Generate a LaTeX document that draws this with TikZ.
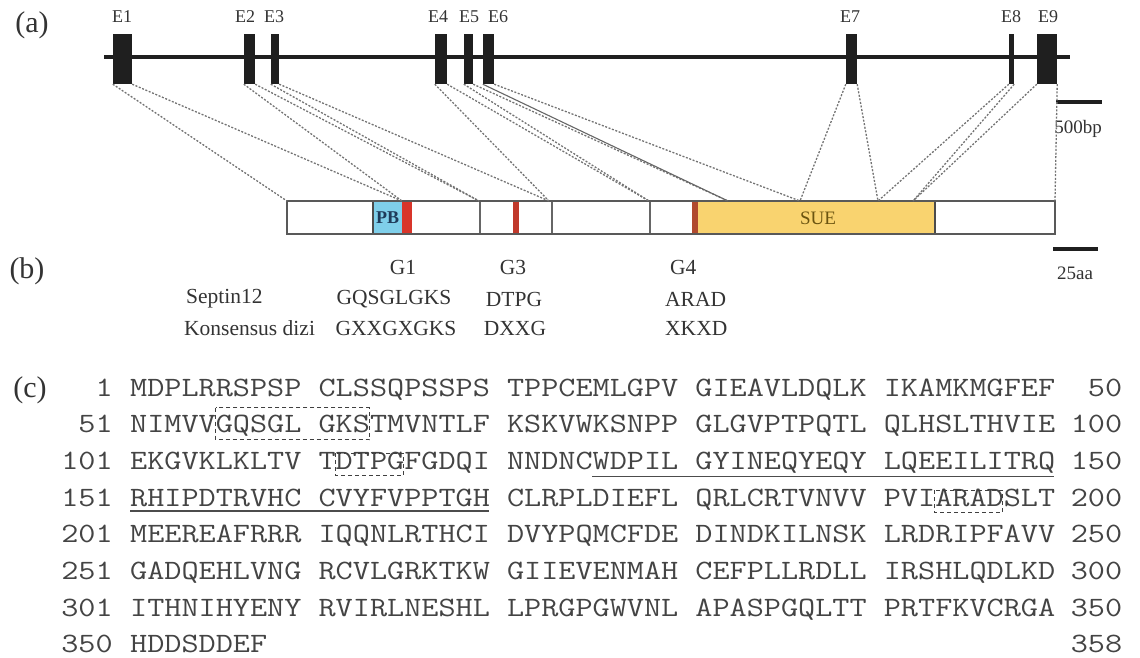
\documentclass[tikz,border=0pt]{standalone}
\usepackage{graphicx}
\usepackage{fontspec}
\setmainfont{Liberation Serif}
\newfontfamily\seqfont{Latin Modern Mono}
\newcommand{\sq}[1]{\scalebox{1.188}[1]{#1}}
\newcommand{\gsp}{\hspace{0.51428em}}
\definecolor{pbblue}{HTML}{7FCFEA}
\definecolor{pbtext}{HTML}{1F3B5A}
\definecolor{suey}{HTML}{F9D36F}
\definecolor{suetext}{HTML}{6B5410}
\definecolor{gred}{HTML}{D8352A}
\definecolor{gred2}{HTML}{C0392B}
\definecolor{gbrown}{HTML}{B04A2E}
\definecolor{txt}{HTML}{333333}
\definecolor{seqc}{HTML}{444444}
\begin{document}
\begin{tikzpicture}[x=1pt,y=-1pt,
  exon/.style={fill=black!88, draw=none, inner sep=0pt, minimum height=50pt},
  conn/.style={draw=black!55, line width=1.3pt, dash pattern=on 2pt off 1.6pt},
  connsolid/.style={draw=black!60, line width=1.1pt},
  elab/.style={font=\fontsize{18}{18}\selectfont, text=txt, inner sep=0pt},
  panel/.style={font=\fontsize{30}{30}\selectfont, text=txt, inner sep=0pt, anchor=base},
  mlab/.style={font=\fontsize{21.5}{22}\selectfont, text=txt, inner sep=0pt},
  slab/.style={font=\fontsize{19}{19}\selectfont, text=txt, inner sep=0pt},
  seq/.style={font=\seqfont\fontsize{28}{30}\selectfont, text=seqc, inner sep=0pt},
  seqbox/.style={draw=black!75, line width=1.1pt, dash pattern=on 4pt off 3pt},
  uline/.style={draw=black!70, line width=1.5pt},
  divider/.style={draw=black!60, line width=1.2pt}
]
\useasboundingbox (0,0) rectangle (1140,658);

% ---------------- (a) gene structure ----------------
\node[panel] (pa) at (32,33) {(a)};
\draw[line width=4pt, black!88] (104,57) -- (1070,57);
\node[exon, minimum width=19pt] (E1) at (122.5,59) {};
\node[exon, minimum width=11pt] (E2) at (249.5,59) {};
\node[exon, minimum width=8pt]  (E3) at (275,59) {};
\node[exon, minimum width=12pt] (E4) at (441,59) {};
\node[exon, minimum width=9pt]  (E5) at (468.5,59) {};
\node[exon, minimum width=11pt] (E6) at (488.5,59) {};
\node[exon, minimum width=11pt] (E7) at (851.5,59) {};
\node[exon, minimum width=5pt]  (E8) at (1011.5,59) {};
\node[exon, minimum width=20pt] (E9) at (1047,59) {};
\node[elab] (lE1) at (122,17) {E1};
\node[elab] (lE2) at (245,17) {E2};
\node[elab] (lE3) at (274,17) {E3};
\node[elab] (lE4) at (438,17) {E4};
\node[elab] (lE5) at (469,17) {E5};
\node[elab] (lE6) at (498,17) {E6};
\node[elab] (lE7) at (850,17) {E7};
\node[elab] (lE8) at (1011,17) {E8};
\node[elab] (lE9) at (1048,17) {E9};

% scale bar 500bp
\coordinate (sbA1) at (1056,102);
\coordinate (sbA2) at (1102,102);
\draw[line width=4pt, black!88] (sbA1) -- (sbA2);
\node[slab] (bp) at (1078,129) {500bp};

% ---------------- protein bar ----------------
\fill[pbblue] (373,201) rectangle (402,234);
\fill[gred] (402,201) rectangle (412,234);
\fill[gred2] (513,201) rectangle (519,234);
\fill[gbrown] (692,201) rectangle (698,234);
\fill[suey] (698,201) rectangle (935,234);
\draw[black!70, line width=1.2pt] (373,201) -- (373,234);
\draw[black!70, line width=1.2pt] (935,201) -- (935,234);
\draw[divider] (480,201) -- (480,234);
\draw[divider] (552,201) -- (552,234);
\draw[divider] (650,201) -- (650,234);
\draw[black!65, line width=1.6pt] (287,201) rectangle (1055,234);
\node[font=\bfseries\fontsize{18}{18}\selectfont, text=pbtext, inner sep=0pt] (PB) at (387.5,218) {PB};
\node[font=\fontsize{19}{19}\selectfont, text=suetext, inner sep=0pt] (SUE) at (818,218) {SUE};

% scale bar 25aa
\coordinate (sbB1) at (1053,249);
\coordinate (sbB2) at (1098,249);
\draw[line width=3.5pt, black!88] (sbB1) -- (sbB2);
\node[slab] (aa) at (1075,273) {25aa};

% connector landing points on the protein bar
\coordinate (p0) at (287,201);
\coordinate (p1) at (402,201);
\coordinate (p2) at (479,201);
\coordinate (p3) at (549,201);
\coordinate (p4) at (649,201);
\coordinate (p5) at (728,201);
\coordinate (p6) at (800,201);
\coordinate (p7) at (878,201);
\coordinate (p8) at (913,201);
\coordinate (p9) at (1055,201);

\draw[conn] (E1.south west) -- (p0);
\draw[conn] (E1.south east) -- (p1);
\draw[conn] (E2.south west) -- (p1);
\draw[conn] (E2.south east) -- (p2);
\draw[conn] (E3.south west) -- (p2);
\draw[conn] (E3.south east) -- (p3);
\draw[conn] (E4.south west) -- (p3);
\draw[conn] (E4.south east) -- (p4);
\draw[conn] (E5.south west) -- (p4);
\draw[conn] (E5.south east) -- (p5);
\draw[connsolid] (E6.south west) -- (p5);
\draw[conn] (E6.south east) -- (p6);
\draw[conn] (E7.south west) -- (p6);
\draw[conn] (E7.south east) -- (p7);
\draw[conn] (E8.south west) -- (p7);
\draw[conn] (E8.south east) -- (p8);
\draw[conn] (E9.south west) -- (p8);
\draw[conn] (E9.south east) -- (p9);

% ---------------- (b) motifs ----------------
\node[panel] (pb) at (27,278) {(b)};
\node[mlab] (G1) at (403,267) {G1};
\node[mlab] (G3) at (513,267) {G3};
\node[mlab, anchor=west] (G4) at (670,267) {G4};
\node[mlab, anchor=west] (sep) at (186,299) {Septin12};
\node[mlab, anchor=west] (kon) at (184,328) {Konsensus dizi};
\node[mlab] (m1) at (394,299) {GQSGLGKS};
\node[mlab] (m2) at (514,299) {DTPG};
\node[mlab, anchor=west] (m3) at (665,299) {ARAD};
\node[mlab] (k1) at (396,328) {GXXGXGKS};
\node[mlab] (k2) at (515,328) {DXXG};
\node[mlab, anchor=west] (k3) at (665,328) {XKXD};

% ---------------- (c) sequence ----------------
\node[panel] (pc) at (30,397) {(c)};
\foreach \i/\b/\n/\s/\e in {
  1/396/1/{MDPLRRSPSP\gsp CLSSQPSSPS\gsp TPPCEMLGPV\gsp GIEAVLDQLK\gsp IKAMKMGFEF}/50,
  2/432.7/51/{NIMVVGQSGL\gsp GKSTMVNTLF\gsp KSKVWKSNPP\gsp GLGVPTPQTL\gsp QLHSLTHVIE}/100,
  3/469.4/101/{EKGVKLKLTV\gsp TDTPGFGDQI\gsp NNDNCWDPIL\gsp GYINEQYEQY\gsp LQEEILITRQ}/150,
  4/506.1/151/{RHIPDTRVHC\gsp CVYFVPPTGH\gsp CLRPLDIEFL\gsp QRLCRTVNVV\gsp PVIARADSLT}/200,
  5/542.8/201/{MEEREAFRRR\gsp IQQNLRTHCI\gsp DVYPQMCFDE\gsp DINDKILNSK\gsp LRDRIPFAVV}/250,
  6/579.5/251/{GADQEHLVNG\gsp RCVLGRKTKW\gsp GIIEVENMAH\gsp CEFPLLRDLL\gsp IRSHLQDLKD}/300,
  7/616.2/301/{ITHNIHYENY\gsp RVIRLNESHL\gsp LPRGPGWVNL\gsp APASPGQLTT\gsp PRTFKVCRGA}/350,
  8/652.9/350/{HDDSDDEF}/358}{
  \node[seq, anchor=base east] (num\i) at (112.9,\b) {\sq{\n}};
  \node[seq, anchor=base west] (row\i) at (130,\b) {\sq{\s}};
  \node[seq, anchor=base east] (end\i) at (1122.4,\b) {\sq{\e}};
}
% motif boxes and domain underlines
\draw[seqbox] (215.6,407.7) rectangle (369.5,439.7);
\draw[seqbox] (335.3,453.4) rectangle (403.8,475.4);
\draw[uline] (592,476.4) -- (1054,476.4);
\draw[uline] (130,511.1) -- (489.3,511.1);
\draw[seqbox] (934.2,490.1) rectangle (1002.6,512.1);
\end{tikzpicture}
\end{document}
